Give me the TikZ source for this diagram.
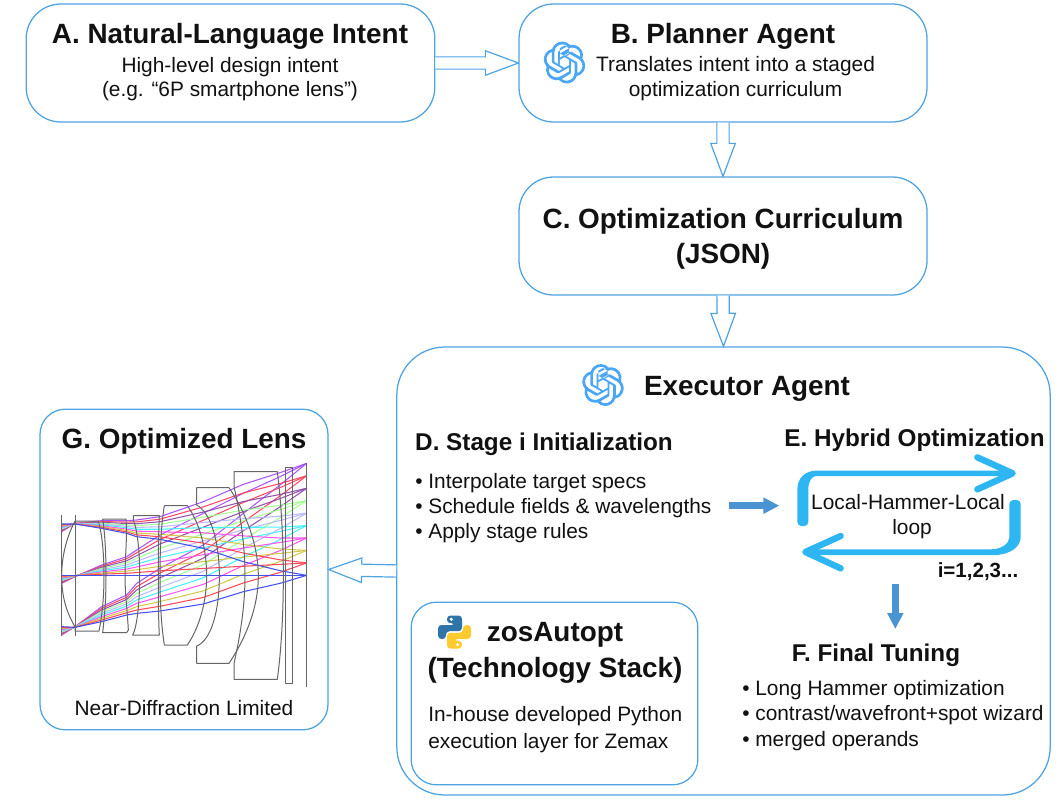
\documentclass[tikz,border=0pt]{standalone}
\usepackage{fontspec}
\setmainfont{Liberation Sans}
\usetikzlibrary{calc,arrows.meta,svg.path}
\definecolor{boxline}{HTML}{4FA3E3}
\definecolor{logoblue}{HTML}{4BA6F5}
\definecolor{arrowblue}{HTML}{4A94D4}
\definecolor{loopblue}{HTML}{2DB6F2}
\definecolor{pyblue}{HTML}{2F74A8}
\definecolor{pyyellow}{HTML}{FFCB2E}
\definecolor{txt}{HTML}{111111}
\definecolor{lensgray}{HTML}{666666}
\definecolor{rA}{HTML}{A64DFF}
\definecolor{rB}{HTML}{FF4060}
\definecolor{rC}{HTML}{904AA8}
\definecolor{rD}{HTML}{A0FF90}
\definecolor{rE}{HTML}{B8B8FF}
\definecolor{rF}{HTML}{40F0FF}
\definecolor{rG}{HTML}{FF50F0}
\definecolor{rH}{HTML}{D0C840}
\definecolor{rI}{HTML}{FF4050}
\definecolor{rJ}{HTML}{3A4AF0}
\newcommand{\blockarrow}[2]{%
  \coordinate (ba) at (#1);\coordinate (bb) at (#2);
  \coordinate (bc) at ($(bb)!24.75pt!(ba)$);
  \draw[boxline,line width=.9pt,line join=miter,fill=white]
    ($(ba)!4.6pt!90:(bb)$) -- ($(bc)!4.6pt!-90:(ba)$) -- ($(bc)!9.2pt!-90:(ba)$) -- (bb)
    -- ($(bc)!9.2pt!90:(ba)$) -- ($(bc)!4.6pt!90:(ba)$) -- ($(ba)!4.6pt!-90:(bb)$);}
\newcommand{\gptlogo}[2]{%
  \begin{scope}[shift={(#1,#2)},xscale=1.31,yscale=-1.31,shift={(-12pt,-12pt)}]
    \fill[logoblue,even odd rule] svg{M22.2819 9.8211a5.9847 5.9847 0 0 0-.5157-4.9108 6.0462 6.0462 0 0 0-6.5098-2.9A6.0651 6.0651 0 0 0 4.9807 4.1818a5.9847 5.9847 0 0 0-3.9977 2.9 6.0462 6.0462 0 0 0 .7427 7.0966 5.98 5.98 0 0 0 .511 4.9107 6.051 6.051 0 0 0 6.5146 2.9001A5.9847 5.9847 0 0 0 13.2599 24a6.0557 6.0557 0 0 0 5.7718-4.2058 5.9894 5.9894 0 0 0 3.9977-2.9001 6.0557 6.0557 0 0 0-.7475-7.0729zm-9.022 12.6081a4.4755 4.4755 0 0 1-2.8764-1.0408l.1419-.0804 4.7783-2.7582a.7948.7948 0 0 0 .3927-.6813v-6.7369l2.02 1.1686a.071.071 0 0 1 .038.052v5.5826a4.504 4.504 0 0 1-4.4945 4.4944zm-9.6607-4.1254a4.4708 4.4708 0 0 1-.5346-3.0137l.142.0852 4.783 2.7582a.7712.7712 0 0 0 .7806 0l5.8428-3.3685v2.3324a.0804.0804 0 0 1-.0332.0615L9.74 19.9502a4.4992 4.4992 0 0 1-6.1408-1.6464zM2.3408 7.8956a4.485 4.485 0 0 1 2.3655-1.9728V11.6a.7664.7664 0 0 0 .3879.6765l5.8144 3.3543-2.0201 1.1685a.0757.0757 0 0 1-.071 0l-4.8303-2.7865A4.504 4.504 0 0 1 2.3408 7.872zm16.5963 3.8558L13.1038 8.364 15.1192 7.2a.0757.0757 0 0 1 .071 0l4.8303 2.7913a4.4944 4.4944 0 0 1-.6765 8.1042v-5.6772a.79.79 0 0 0-.407-.667zm2.0107-3.0231l-.142-.0852-4.7735-2.7818a.7759.7759 0 0 0-.7854 0L9.409 9.2297V6.8974a.0662.0662 0 0 1 .0284-.0615l4.8303-2.7866a4.4992 4.4992 0 0 1 6.6802 4.66zM8.3065 12.863l-2.02-1.1638a.0804.0804 0 0 1-.038-.0567V6.0742a4.4992 4.4992 0 0 1 7.3757-3.4537l-.142.0805L8.704 5.459a.7948.7948 0 0 0-.3927.6813zm1.0976-2.3654l2.602-1.4998 2.6069 1.4998v2.9994l-2.5974 1.4997-2.6099-1.4997Z};
    \fill[white] (9.4pt,10.5pt) -- (12pt,9pt) -- (14.6pt,10.5pt) -- (14.6pt,13.5pt) -- (12pt,15pt) -- (9.4pt,13.5pt) -- cycle;
  \end{scope}}
\tikzset{
  card/.style={draw=boxline,line width=.95pt,rectangle,fill=white},
  ttl/.style={font=\bfseries\fontsize{20.9}{24}\selectfont,text=txt,anchor=base,inner sep=0pt},
  sub/.style={font=\bfseries\fontsize{18.2}{21}\selectfont,text=txt,anchor=base,inner sep=0pt},
  zttl/.style={font=\bfseries\fontsize{20.9}{24}\selectfont,text=txt,anchor=base,inner sep=0pt},
  body/.style={font=\fontsize{15.65}{18}\selectfont,text=txt,anchor=base,inner sep=0pt},
  bodyl/.style={body,anchor=base west},
  lens/.style={draw=lensgray,line width=.75pt,line join=round},
  ray/.style={line width=.8pt,line join=round,opacity=.95},
  solidarrow/.style={arrowblue,line width=4.9pt,-{Triangle[length=12pt,width=11.5pt]}},
}
\begin{document}
\begin{tikzpicture}[x=.75pt,y=-.75pt]
\useasboundingbox (0,0) rectangle (1059,801);
% boxes
\node[card,rounded corners=26pt,minimum width=306.5pt,minimum height=88.5pt] (A) at (230.5,63) {};
\node[card,rounded corners=26pt,minimum width=306pt,minimum height=88.5pt] (B) at (723,63) {};
\node[card,rounded corners=26pt,minimum width=306pt,minimum height=88.5pt] (C) at (723,236) {};
\node[card,rounded corners=36pt,minimum width=490pt,minimum height=336pt] (X) at (723.5,571) {};
\node[card,rounded corners=19pt,minimum width=216pt,minimum height=240.5pt] (G) at (184,569.5) {};
\node[card,rounded corners=19pt,minimum width=215pt,minimum height=137pt] (Z) at (554.5,693.5) {};
% block arrows
\blockarrow{A.east}{B.west}
\blockarrow{B.south}{C.north}
\blockarrow{C.south}{X.north}
\blockarrow{X.west}{G.east}
% texts A
\node[ttl] (at) at (230,43) {A. Natural-Language Intent};
\node[body] (a1) at (230,72) {High-level design intent};
\node[body] (a2) at (230,96) {(e.g. “6P smartphone lens”)};
% B
\node[ttl] (bt) at (723,43) {B. Planner Agent};
\node[body] (b1) at (735.5,71) {Translates intent into a staged};
\node[body] (b2) at (735.5,96) {optimization curriculum};
\gptlogo{564.5}{62.5}
% C
\node[ttl] (ct) at (723,228) {C. Optimization Curriculum};
\node[ttl] (c2) at (723,263) {(JSON)};
% Executor
\gptlogo{603}{385}
\node[ttl] (xt) at (747,395) {Executor Agent};
\node[sub] (dt) at (544,450) {D. Stage i Initialization};
\node[bodyl] (d1) at (415,488) {• Interpolate target specs};
\node[bodyl] (d2) at (415,513) {• Schedule fields \& wavelengths};
\node[bodyl] (d3) at (415,538) {• Apply stage rules};
\node[sub] (et) at (914.5,446) {E. Hybrid Optimization};
\node[body] (e1) at (908,509) {Local-Hammer-Local};
\node[body] (e2) at (912,534) {loop};
\node[font=\bfseries\fontsize{15.4}{18}\selectfont,text=txt,anchor=base,inner sep=0pt] (e3) at (978,577) {i=1,2,3...};
\node[sub] (ft) at (876,661) {F. Final Tuning};
\node[bodyl] (f1) at (742,695) {• Long Hammer optimization};
\node[bodyl] (f2) at (742,720) {• contrast/wavefront+spot wizard};
\node[bodyl] (f3) at (742,746) {• merged operands};
% zos
\node[zttl] (zt) at (555,641) {zosAutopt};
\node[zttl] (z2) at (555,677) {(Technology Stack)};
\node[bodyl] (z3) at (428,721) {In-house developed Python};
\node[bodyl] (z4) at (428,748) {execution layer for Zemax};
% python logo
\begin{scope}[shift={(454.5,632)}]
  \foreach \rr/\cc in {0/pyblue,180/pyyellow}{
    \begin{scope}[rotate=\rr]
    \fill[\cc,rounded corners=2.6pt] (-7.5,-16.5) -- (7.5,-16.5) -- (7.5,-.8) -- (-8.5,-.8) -- (-8.5,7) -- (-16.5,7) -- (-16.5,-7) -- (.5,-7) -- (.5,-8.8) -- (-7.5,-8.8) -- cycle;
    \fill[white] (-3.2,-12.7) circle (1.7);
    \end{scope}}
\end{scope}
% G
\node[ttl] (gt) at (184,448) {G. Optimized Lens};
\node[body] (gc) at (184,715) {Near-Diffraction Limited};
% lens drawing
\begin{scope}[shift={(30,450)},x=.25pt,y=-.25pt]
  \foreach \k/\c in {0/rA,1/rB,2/rC,3/rD,4/rE,5/rF,6/rG,7/rH,8/rI,9/rJ}{
    \draw[ray,\c] (95,{245+(222-245)*\k/9})
      \foreach \x/\a/\b in {135/220/222,215/212/235,290/212/250,320/210/260,390/200/268,520/155/295,640/103/335,750/68/362,830/40/376}{ -- (\x,{\a+(\b-\a)*\k/9}) };
    \draw[ray,\c] (95,{400+(376-400)*\k/9})
      \foreach \x/\a/\b in {135/380/376,215/345/376,290/320/376,320/300/376,390/255/376,520/190/376,640/130/376,750/80/376,830/40/376}{ -- (\x,{\a+(\b-\a)*\k/9}) };
    \draw[ray,\c] (95,{555+(530-555)*\k/9})
      \foreach \x/\a/\b in {135/530/532,215/470/515,290/435/495,320/400/490,390/355/483,520/285/462,640/190/425,750/105/400,830/40/376}{ -- (\x,{\a+(\b-\a)*\k/9}) };
  }
  % elements
  \draw[lens] (95,195) -- (95,558);
  \draw[lens] (135,195) -- (135,558);
  \draw[lens] (135,213) .. controls (105,270) and (95,330) .. (95,378) .. controls (95,430) and (105,480) .. (135,530) -- (135,543) -- (207,543) .. controls (218,490) and (222,430) .. (222,378) .. controls (222,320) and (218,260) .. (205,213) -- cycle;
  \draw[lens] (218,207) -- (288,207) .. controls (292,270) and (285,320) .. (285,378) .. controls (285,430) and (292,480) .. (295,540) -- (290,548) -- (218,548) .. controls (226,480) and (228,430) .. (228,378) .. controls (228,320) and (226,260) .. (218,207);
  \draw[lens] (310,197) -- (388,197) .. controls (385,260) and (385,320) .. (385,378) .. controls (385,430) and (385,500) .. (388,555) -- (308,555) .. controls (322,530) and (329,450) .. (329,378) .. controls (329,300) and (322,240) .. (310,210) -- cycle;
  \draw[lens] (403,167) -- (472,167) .. controls (510,220) and (530,300) .. (530,378) .. controls (530,450) and (510,530) .. (472,585) -- (403,585) .. controls (393,520) and (390,450) .. (390,378) .. controls (390,300) and (393,230) .. (403,167);
  \draw[lens] (500,113) -- (597,113) .. controls (650,190) and (685,290) .. (685,378) .. controls (685,470) and (650,560) .. (597,640) -- (500,640) -- (500,588) .. controls (545,570) and (568,480) .. (568,378) .. controls (568,280) and (545,190) .. (500,165) -- cycle;
  \draw[lens] (612,65) -- (742,65) .. controls (755,170) and (760,280) .. (760,378) .. controls (760,480) and (755,590) .. (742,688) -- (612,688) -- (612,640) .. controls (630,560) and (645,470) .. (645,378) .. controls (645,280) and (630,190) .. (612,110) -- cycle;
  \draw[lens] (765,53) rectangle (788,700);
  \draw[lens,line width=.9pt] (830,40) -- (830,712);
\end{scope}
% loop
\begin{scope}[shift={(720,440)},x=.25pt,y=-.25pt]
  \fill[loopblue,rounded corners=3pt] (232,258) -- (232,160) .. controls (232,115) and (255,92) .. (300,92) -- (870,92) -- (870,108) -- (300,108) .. controls (275,108) and (265,125) .. (265,160) -- (265,258) -- cycle;
  \draw[loopblue,line width=4.8pt,line cap=round,line join=round] (772,52) -- (878,100) -- (772,148);
  \fill[loopblue,rounded corners=3pt] (902,180) -- (902,280) .. controls (902,320) and (870,345) .. (810,345) -- (260,345) -- (260,328) -- (800,328) .. controls (845,328) and (868,310) .. (868,280) -- (868,180) -- cycle;
  \draw[loopblue,line width=4.8pt,line cap=round,line join=round] (362,288) -- (256,336) -- (362,385);
  \coordinate (ea) at (27,197);\coordinate (eb) at (178,197);
  \coordinate (fa) at (526,432);\coordinate (fb) at (526,567);
  \draw[solidarrow] (ea) -- (eb);
  \draw[solidarrow] (fa) -- (fb);
\end{scope}
\end{tikzpicture}
\end{document}
